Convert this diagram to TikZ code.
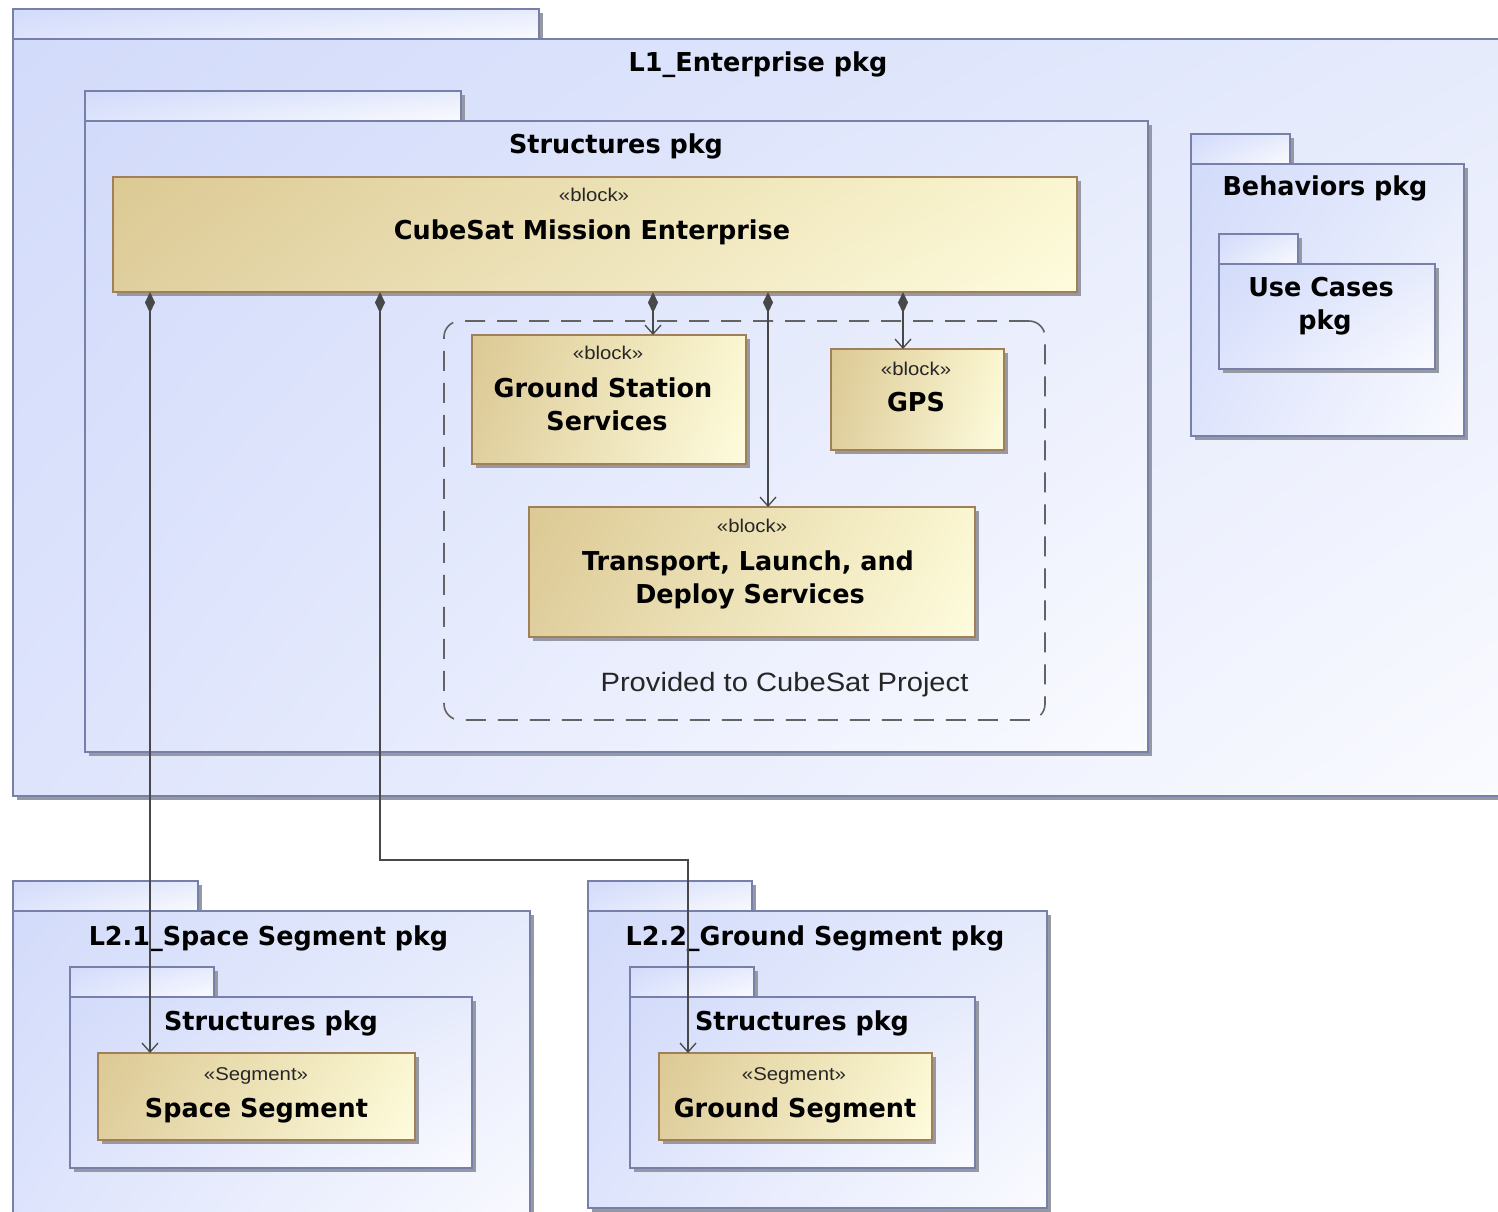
\documentclass[tikz,border=0pt]{standalone}
\usepackage{fontspec}
\setmainfont{Liberation Sans}
\newfontfamily\headfont{DejaVu Sans}[FakeStretch=0.98]
\newfontfamily\plainfont{Liberation Sans}[FakeStretch=1.10]
\usetikzlibrary{arrows.meta,shadows,shadings,calc}

% package fill (diagonal blue-to-white) and block fill (tan-to-cream)
\definecolor{pkgUL}{RGB}{210,219,250}
\definecolor{pkgUR}{RGB}{230,235,252}
\definecolor{pkgLL}{RGB}{222,228,252}
\definecolor{pkgLR}{RGB}{250,251,255}
\definecolor{pkgLine}{RGB}{118,128,168}
\definecolor{blkUL}{RGB}{220,201,148}
\definecolor{blkUR}{RGB}{250,246,208}
\definecolor{blkLL}{RGB}{224,207,158}
\definecolor{blkLR}{RGB}{254,252,222}
\definecolor{blkLine}{RGB}{160,128,88}
\definecolor{wire}{RGB}{72,72,72}
\definecolor{shadowgray}{RGB}{150,152,162}

\tikzset{
  pkgbox/.style={draw=pkgLine, line width=2pt, inner sep=0pt, outer sep=0pt,
    anchor=north west, upper left=pkgUL, upper right=pkgUR,
    lower left=pkgLL, lower right=pkgLR,
    drop shadow={shadow xshift=4pt, shadow yshift=-4pt, fill=shadowgray, opacity=1}},
  blockbox/.style={draw=blkLine, line width=2pt, inner sep=0pt, outer sep=0pt,
    anchor=north west, upper left=blkUL, upper right=blkUR,
    lower left=blkLL, lower right=blkLR,
    drop shadow={shadow xshift=4pt, shadow yshift=-4pt, fill=shadowgray, opacity=1}},
  grouparea/.style={draw=wire!85, line width=1.6pt, dash pattern=on 20pt off 12pt,
    rounded corners=16pt, inner sep=0pt, outer sep=0pt, anchor=north west},
  titletext/.style={font=\headfont\bfseries\fontsize{26}{33}\selectfont,
    inner sep=0pt, anchor=base, text=black},
  stereotext/.style={font=\plainfont\fontsize{18.5}{22}\selectfont,
    inner sep=0pt, anchor=base, text=black!85},
  notetext/.style={font=\plainfont\fontsize{26.5}{30}\selectfont,
    inner sep=0pt, anchor=base, text=black!85},
  composite/.style={draw=wire, line width=1.6pt,
    {Diamond[length=21pt,width=10pt,fill=wire]}-{Straight Barb[length=9pt,width=16pt,line width=1.3pt]}}
}

\begin{document}
\begin{tikzpicture}[x=1pt,y=-1pt]
\useasboundingbox (0,0) rectangle (1498,1211);
\fill[white] (0,0) rectangle (1498,1211);

% ---------- L1_Enterprise package ----------
\node[pkgbox, minimum width=526pt, minimum height=30pt] (l1tab) at (13,9) {};
\node[pkgbox, minimum width=1497pt, minimum height=757pt] (l1) at (13,39) {};
\node[titletext] (l1title) at (758,71) {L1\_Enterprise pkg};

% Structures package
\node[pkgbox, minimum width=376pt, minimum height=30pt] (strtab) at (85,91) {};
\node[pkgbox, minimum width=1063pt, minimum height=631pt] (str) at (85,121) {};
\node[titletext] (strtitle) at (616,153) {Structures pkg};

% CubeSat Mission Enterprise block
\node[blockbox, minimum width=964pt, minimum height=115pt] (cube) at (113,177) {};
\node[stereotext] (cubest) at (594,201) {«block»};
\node[titletext] (cubename) at (592,239) {CubeSat Mission Enterprise};

% services provided to the project
\node[grouparea, minimum width=601pt, minimum height=399pt] (provided) at (444,321) {};
\node[notetext] (providedlabel) at (784.5,691) {Provided to CubeSat Project};

\node[blockbox, minimum width=274pt, minimum height=129pt] (gss) at (472,335) {};
\node[stereotext] (gssst) at (608,359) {«block»};
\node[titletext] (gssname1) at (603,397) {Ground Station};
\node[titletext] (gssname2) at (607,430) {Services};

\node[blockbox, minimum width=173pt, minimum height=101pt] (gps) at (831,349) {};
\node[stereotext] (gpsst) at (916,375) {«block»};
\node[titletext] (gpsname) at (916,411) {GPS};

\node[blockbox, minimum width=446pt, minimum height=130pt] (tld) at (529,507) {};
\node[stereotext] (tldst) at (752,532) {«block»};
\node[titletext] (tldname1) at (748,570) {Transport, Launch, and};
\node[titletext] (tldname2) at (750,603) {Deploy Services};

% Behaviors package
\node[pkgbox, minimum width=99pt, minimum height=30pt] (behtab) at (1191,134) {};
\node[pkgbox, minimum width=273pt, minimum height=272pt] (beh) at (1191,164) {};
\node[titletext] (behtitle) at (1325,195) {Behaviors pkg};
\node[pkgbox, minimum width=79pt, minimum height=30pt] (uctab) at (1219,234) {};
\node[pkgbox, minimum width=216pt, minimum height=105pt] (uc) at (1219,264) {};
\node[titletext] (uctitle1) at (1321,296) {Use Cases};
\node[titletext] (uctitle2) at (1325,329) {pkg};

% ---------- L2.1_Space Segment package ----------
\node[pkgbox, minimum width=185pt, minimum height=30pt] (l21tab) at (13,881) {};
\node[pkgbox, minimum width=517pt, minimum height=330pt] (l21) at (13,911) {};
\node[titletext] (l21title) at (268.5,945) {L2.1\_Space Segment pkg};
\node[pkgbox, minimum width=144pt, minimum height=30pt] (s21tab) at (70,967) {};
\node[pkgbox, minimum width=402pt, minimum height=171pt] (s21) at (70,997) {};
\node[titletext] (s21title) at (271,1030) {Structures pkg};
\node[blockbox, minimum width=317pt, minimum height=87pt] (spaceseg) at (98,1053) {};
\node[stereotext] (spacesegst) at (256,1080) {«Segment»};
\node[titletext] (spacesegname) at (256.5,1117) {Space Segment};

% ---------- L2.2_Ground Segment package ----------
\node[pkgbox, minimum width=164pt, minimum height=30pt] (l22tab) at (588,881) {};
\node[pkgbox, minimum width=459pt, minimum height=297pt] (l22) at (588,911) {};
\node[titletext] (l22title) at (815,945) {L2.2\_Ground Segment pkg};
\node[pkgbox, minimum width=124pt, minimum height=30pt] (s22tab) at (630,967) {};
\node[pkgbox, minimum width=345pt, minimum height=171pt] (s22) at (630,997) {};
\node[titletext] (s22title) at (802,1030) {Structures pkg};
\node[blockbox, minimum width=273pt, minimum height=87pt] (groundseg) at (659,1053) {};
\node[stereotext] (groundsegst) at (794,1080) {«Segment»};
\node[titletext] (groundsegname) at (795,1117) {Ground Segment};

% ---------- composition connectors ----------
\coordinate (xspace) at (150,0);
\coordinate (bend) at (380,860);
\coordinate (xground) at (688,0);
\coordinate (xgss) at (653,0);
\coordinate (xtld) at (768,0);
\coordinate (xgps) at (903,0);

\draw[composite] (cube.south -| xspace) -- (spaceseg.north -| xspace);
\draw[composite] (cube.south -| bend) -- (bend) -| (groundseg.north -| xground);
\draw[composite] (cube.south -| xgss) -- (gss.north -| xgss);
\draw[composite] (cube.south -| xtld) -- (tld.north -| xtld);
\draw[composite] (cube.south -| xgps) -- (gps.north -| xgps);
\end{tikzpicture}
\end{document}
